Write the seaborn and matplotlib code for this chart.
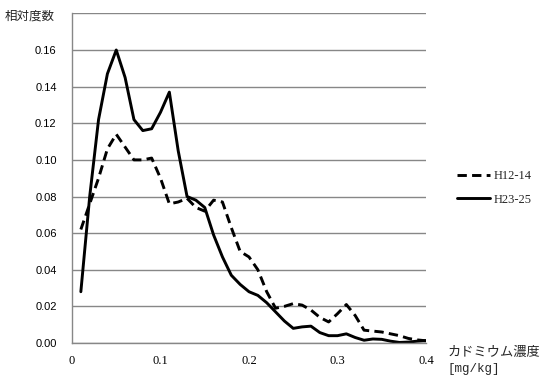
import numpy as np
import pandas as pd
import seaborn as sns
import matplotlib.pyplot as plt

# cadmium concentration bins (mg/kg)
concentration = [round(0.01 * k, 2) for k in range(1, 41)]

# relative frequency, H12-14 (dashed)
h12_14 = [0.062, 0.076, 0.090, 0.106, 0.114, 0.107, 0.100, 0.100, 0.101, 0.090,
          0.076, 0.077, 0.079, 0.074, 0.072, 0.078, 0.077, 0.063, 0.050, 0.047,
          0.040, 0.028, 0.019, 0.020, 0.0215, 0.0207, 0.018, 0.014, 0.0115, 0.016,
          0.021, 0.015, 0.007, 0.0065, 0.006, 0.005, 0.004, 0.0025, 0.0017, 0.0012]

# relative frequency, H23-25 (solid)
h23_25 = [0.028, 0.080, 0.122, 0.147, 0.160, 0.145, 0.122, 0.116, 0.117, 0.126,
          0.137, 0.105, 0.080, 0.078, 0.074, 0.059, 0.047, 0.037, 0.032, 0.028,
          0.026, 0.022, 0.017, 0.012, 0.008, 0.0088, 0.0092, 0.0057, 0.004, 0.004,
          0.005, 0.003, 0.0015, 0.0022, 0.002, 0.001, 0.0003, 0.0005, 0.001, 0.0013]

series_names = ["H12-14", "H23-25"]
y_ticks = [0.00, 0.02, 0.04, 0.06, 0.08, 0.10, 0.12, 0.14, 0.16, 0.18]
x_ticks = [0, 0.1, 0.2, 0.3, 0.4]

df = pd.DataFrame({
    "conc": concentration * 2,
    "freq": h12_14 + h23_25,
    "series": [series_names[0]] * len(h12_14) + [series_names[1]] * len(h23_25),
})

sns.set_style("white")
grid_col = "#878787"

fig = plt.figure(figsize=(5.46, 3.78), dpi=100)
ax = fig.add_axes([72 / 546, 1 - 343 / 378, (426 - 72) / 546, (343 - 13.4) / 378])

sns.lineplot(data=df, x="conc", y="freq", hue="series", style="series",
             palette=["black", "black"],
             dashes={series_names[0]: (3.2, 1.8), series_names[1]: ""},
             linewidth=2.1, ax=ax, legend=False)
for line in ax.get_lines():
    line.set_solid_joinstyle("round")
    line.set_dash_joinstyle("round")

ax.set_xlim(0, 0.4)
ax.set_ylim(0, 0.18)
ax.set_yticks(y_ticks)
ax.set_yticklabels([f"{v:.2f}" for v in y_ticks[:-1]] + [""],
                   fontfamily="Liberation Sans", fontsize=8)
ax.set_xticks(x_ticks)
ax.set_xticklabels(["0", "0.1", "0.2", "0.3", "0.4"],
                   fontfamily="Liberation Serif", fontsize=9)
ax.set_xlabel("")
ax.set_ylabel("")

ax.grid(axis="y", color=grid_col, linewidth=1.0)
ax.set_axisbelow(True)
for side in ["top", "right"]:
    ax.spines[side].set_visible(False)
for side in ["left", "bottom"]:
    ax.spines[side].set_color(grid_col)
    ax.spines[side].set_linewidth(1.0)
ax.tick_params(axis="both", direction="out", length=5, width=1.0,
               color=grid_col, labelcolor="black")
ax.tick_params(axis="y", pad=6)
ax.tick_params(axis="x", pad=4)

# y axis title sits where the top tick label would be
fig.text(55 / 546, 1 - 16 / 378, "相対度数", ha="right", va="center",
         fontfamily="Noto Sans CJK JP", fontsize=9)

# x axis title, to the right of the plot
fig.text(448 / 546, 1 - 352 / 378, "カドミウム濃度", ha="left", va="center",
         fontfamily="Noto Sans CJK JP", fontsize=9.5)
fig.text(448 / 546, 1 - 369 / 378, "[mg/kg]", ha="left", va="center",
         fontfamily="Liberation Mono", fontsize=9)

# legend
handles = [plt.Line2D([], [], color="black", linewidth=2.1, dashes=(3.2, 1.8)),
           plt.Line2D([], [], color="black", linewidth=2.1)]
fig.legend(handles, series_names, loc="center left",
           bbox_to_anchor=(446 / 546, 1 - 188 / 378), frameon=False,
           handlelength=2.6, handletextpad=0.3, labelspacing=0.9,
           prop={"family": "Liberation Serif", "size": 9})

fig.savefig("out.png", dpi=100)
